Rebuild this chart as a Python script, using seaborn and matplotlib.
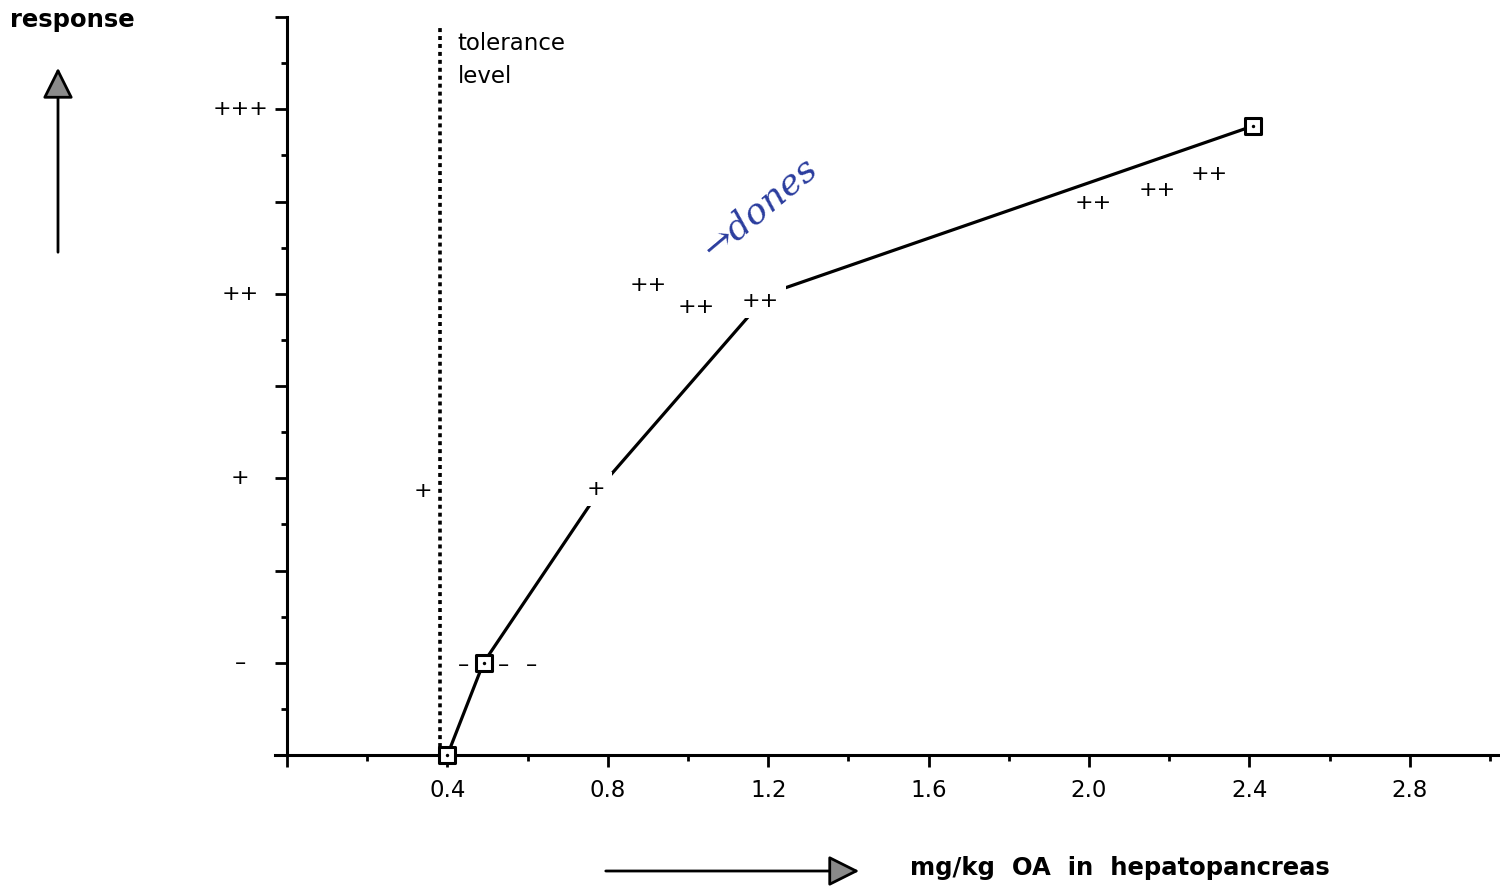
import matplotlib
matplotlib.use("Agg")
import matplotlib.pyplot as plt
from matplotlib.patches import FancyArrowPatch
from matplotlib.ticker import FixedLocator
import seaborn as sns

# response curve (mg/kg OA vs. response level)
curve_x = [0.40, 0.49, 0.80, 1.20, 2.41]
curve_y = [0.00, 0.50, 1.50, 2.50, 3.41]

# points drawn with the open square marker
marked_x = [0.40, 0.49, 2.41]
marked_y = [0.00, 0.50, 3.41]

# individual observations written as symbols
obs_x = [0.34, 0.77, 0.90, 1.02, 1.18, 2.01, 2.17, 2.30, 0.44, 0.54, 0.61]
obs_y = [1.43, 1.44, 2.55, 2.43, 2.46, 2.99, 3.06, 3.15, 0.49, 0.49, 0.49]
obs_label = ["+", "+", "++", "++", "++", "++", "++", "++", "–", "–", "–"]
# symbols that sit on the curve and break it
obs_on_curve = [False, True, False, False, True, False, False, False, False, False, False]

tolerance_x = 0.382

x_ticks = [0.0, 0.4, 0.8, 1.2, 1.6, 2.0, 2.4, 2.8]
x_labels = ["", "0.4", "0.8", "1.2", "1.6", "2.0", "2.4", "2.8"]
y_ticks = [0.0, 0.5, 1.0, 1.5, 2.0, 2.5, 3.0, 3.5, 4.0]
y_labels = ["", "–", "", "+", "", "++", "", "+++", ""]

sns.set_style("ticks", {"text.color": "black", "xtick.color": "black",
                        "ytick.color": "black", "axes.edgecolor": "black"})
plt.rcParams["font.family"] = ["DejaVu Sans"]

fig = plt.figure(figsize=(15, 8.88), dpi=100)
ax = fig.add_axes([275 / 1500, 133 / 888, 1223 / 1500, 738 / 888])

# --- curve and markers
sns.lineplot(x=curve_x, y=curve_y, ax=ax, color="black", linewidth=2.3,
             sort=False, zorder=2)
sq = sns.scatterplot(x=marked_x, y=marked_y, ax=ax, marker="s", s=120,
                     facecolor="white", edgecolor="black", linewidth=2.2, zorder=5)
sns.scatterplot(x=marked_x, y=marked_y, ax=ax, marker="o", s=6,
                color="black", linewidth=0, zorder=6)
for coll in ax.collections:
    coll.set_clip_on(False)

# --- observation symbols
for xv, yv, lab, gap in zip(obs_x, obs_y, obs_label, obs_on_curve):
    box = dict(facecolor="white", edgecolor="none", pad=5) if gap else None
    ax.text(xv, yv, lab, ha="center", va="center", fontsize=16, zorder=4,
            bbox=box)

# --- tolerance level
ax.vlines(tolerance_x, 0, 3.94, colors="black", linewidth=2.6,
          linestyles=(0, (1.1, 1.1)), zorder=3)
ax.text(tolerance_x + 0.043, 3.92, "tolerance\nlevel", ha="left", va="top",
        fontsize=16.5, linespacing=1.55)

# handwritten note
ax.text(1.18, 2.97, "→dones", rotation=40, ha="center", va="center",
        fontsize=26, color="#2b3d9e", family="DejaVu Serif", style="italic")

# --- axes
ax.set_xlim(-0.03, 3.02)
ax.set_ylim(0, 4)
ax.spines["left"].set_position(("data", 0))
ax.spines["left"].set_linewidth(2.2)
ax.spines["bottom"].set_linewidth(2.2)
sns.despine(ax=ax)

ax.xaxis.set_major_locator(FixedLocator(x_ticks))
ax.xaxis.set_minor_locator(FixedLocator([0.2, 0.6, 1.0, 1.4, 1.8, 2.2, 2.6, 3.0]))
ax.set_xticklabels(x_labels, fontsize=16.5)
ax.yaxis.set_major_locator(FixedLocator(y_ticks))
ax.yaxis.set_minor_locator(FixedLocator([0.25 + 0.5 * i for i in range(8)]))
ax.set_yticklabels(y_labels, fontsize=16, ha="center", va="top")

ax.tick_params(axis="both", which="major", direction="out", length=8.6,
               width=2, color="black")
ax.tick_params(axis="both", which="minor", direction="out", length=4.5,
               width=2, color="black")
ax.tick_params(axis="x", pad=9)
ax.tick_params(axis="y", pad=25)
for lab in ax.get_yticklabels():
    lab.set_verticalalignment("center")
    lab.set_y(lab.get_position()[1])
ax.set_xlabel("")
ax.set_ylabel("")

# --- axis titles with arrows
fig.text(10 / 1500, 1 - 20 / 888, "response", fontsize=17.5,
         fontweight="bold", ha="left", va="center")
fig.add_artist(FancyArrowPatch((58 / 1500, 1 - 255 / 888), (58 / 1500, 1 - 65 / 888),
                               transform=fig.transFigure,
                               arrowstyle="-|>,head_length=1.0,head_width=0.5",
                               mutation_scale=19, linewidth=2,
                               facecolor="#8a8a8a", edgecolor="black"))
fig.add_artist(FancyArrowPatch((603 / 1500, 1 - 871 / 888), (862 / 1500, 1 - 871 / 888),
                               transform=fig.transFigure,
                               arrowstyle="-|>,head_length=1.0,head_width=0.5",
                               mutation_scale=19, linewidth=2,
                               facecolor="#8a8a8a", edgecolor="black"))
fig.text(910 / 1500, 1 - 868 / 888, "mg/kg  OA  in  hepatopancreas",
         fontsize=17.5, fontweight="bold", ha="left", va="center")

fig.savefig("out.png", dpi=100)
